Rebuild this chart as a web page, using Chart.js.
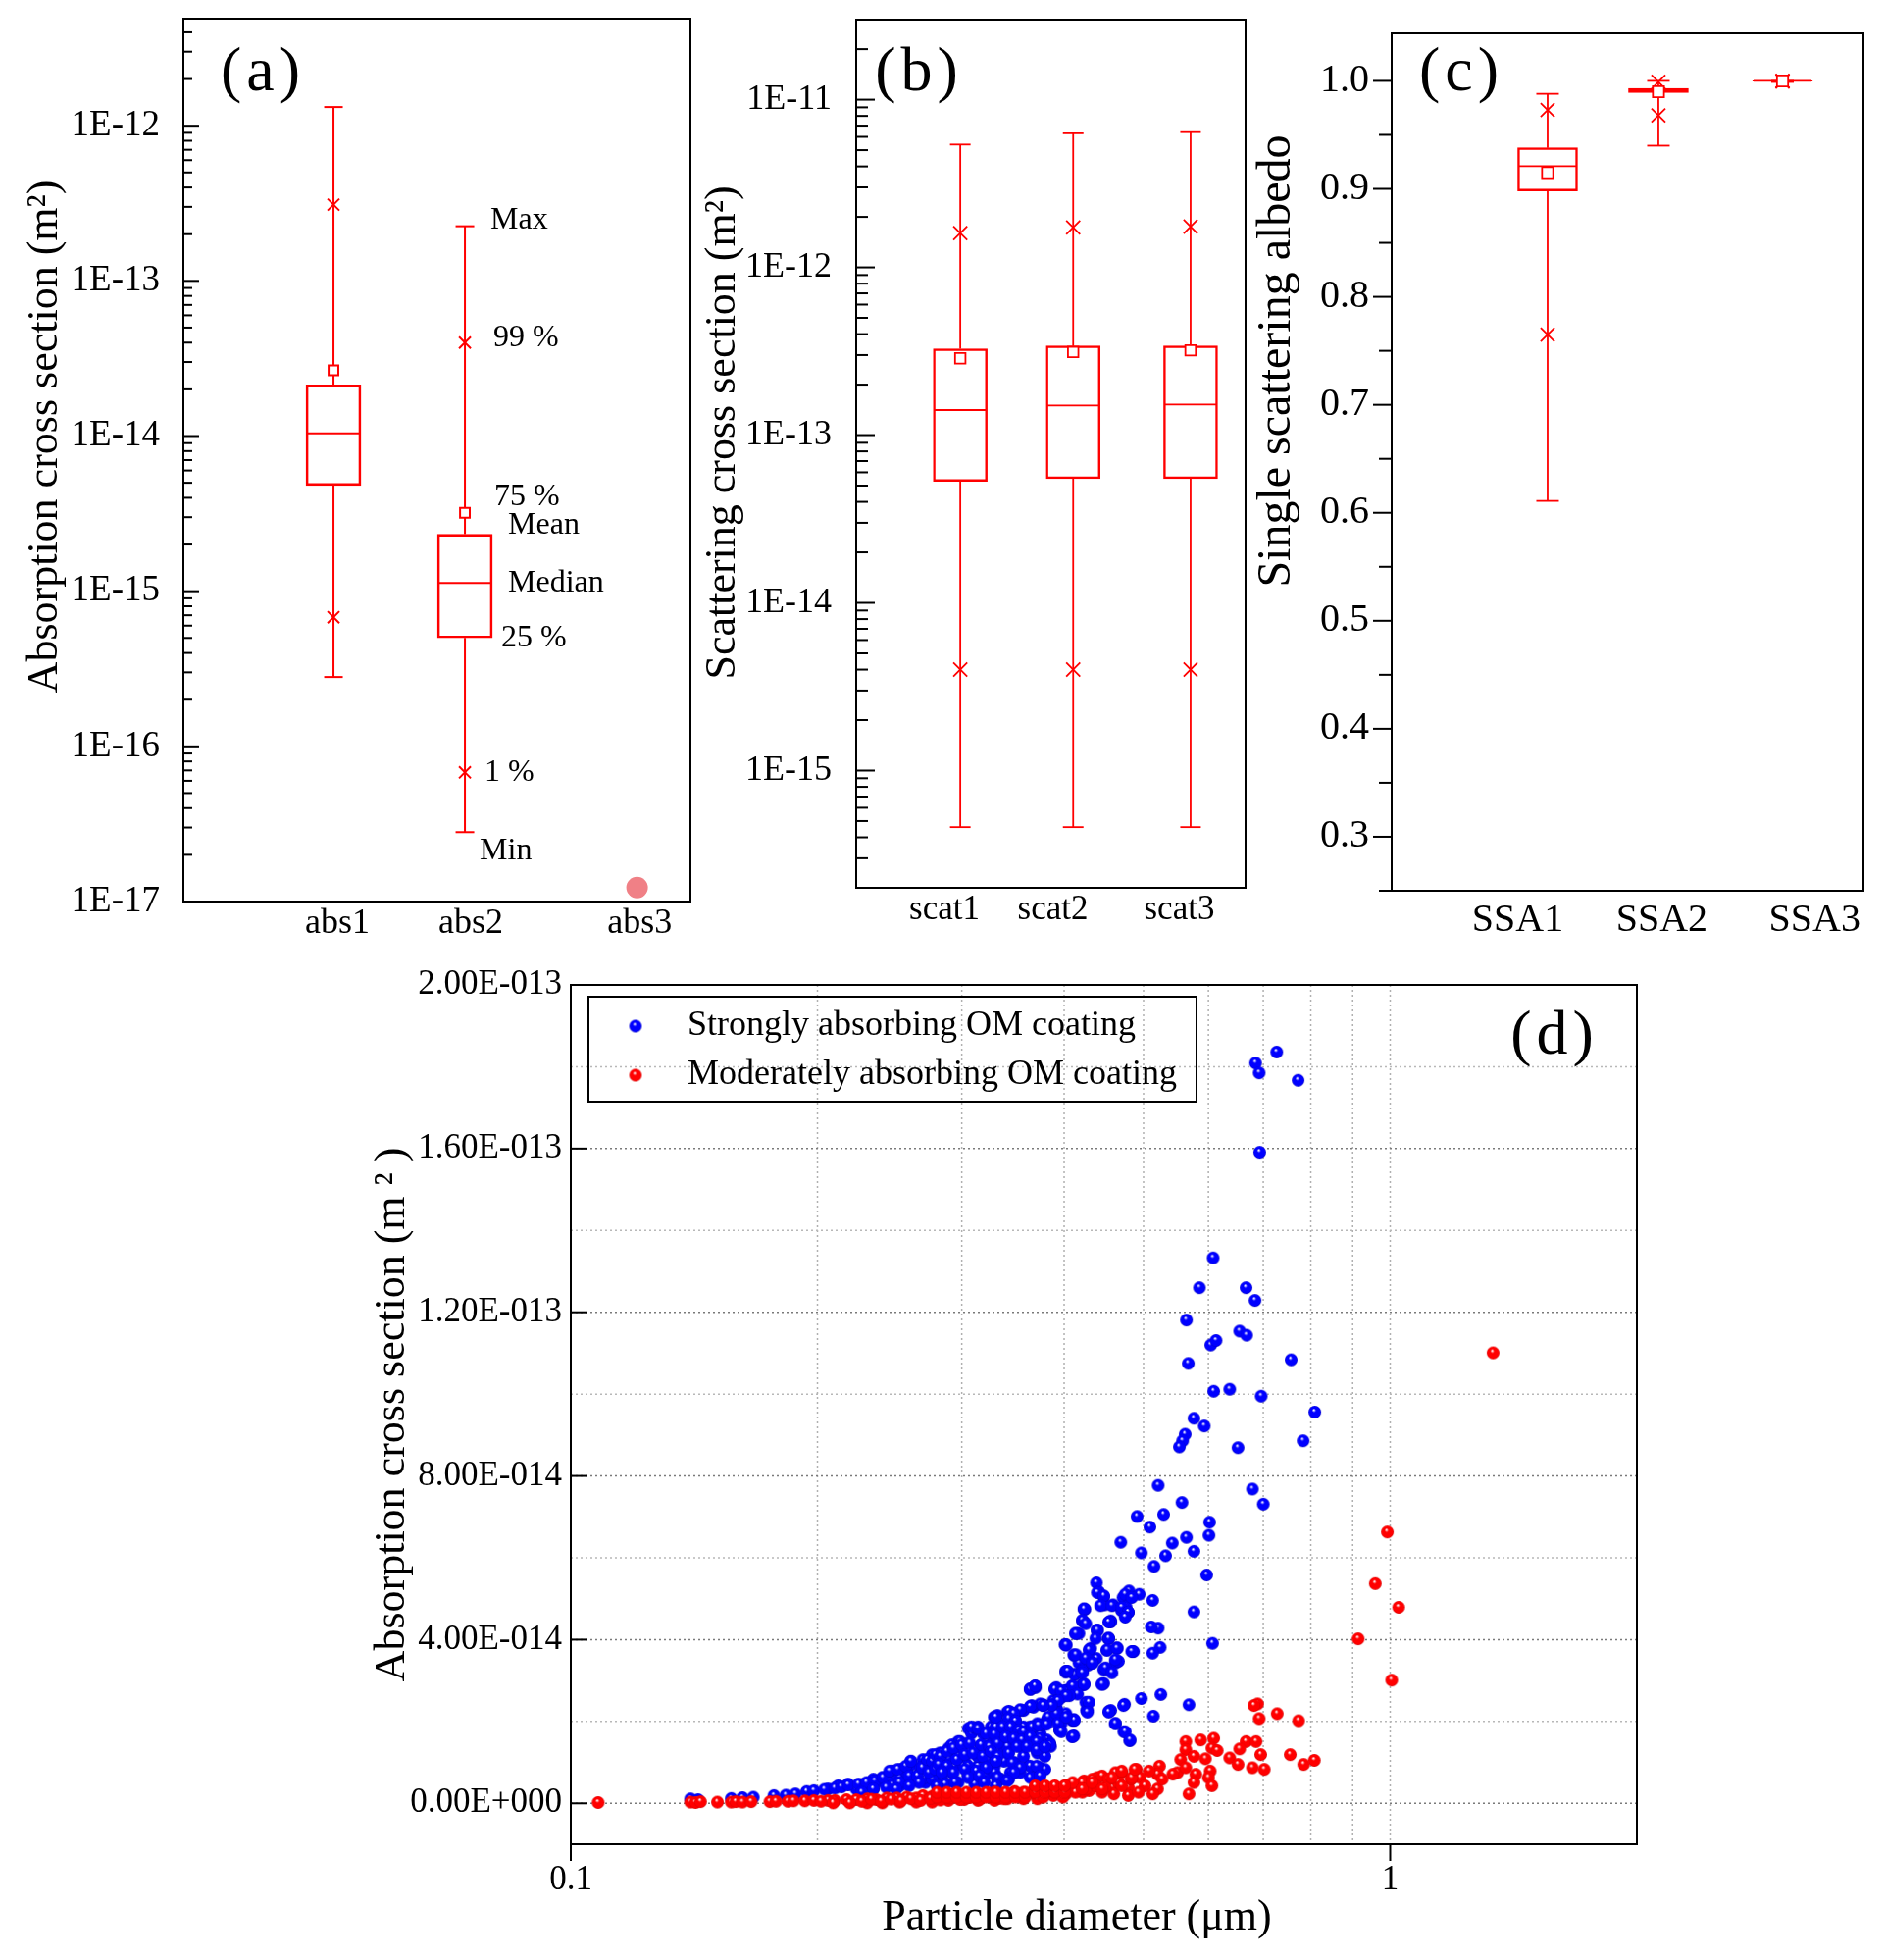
<!DOCTYPE html>
<html>
<head>
<meta charset="utf-8">
<script src="https://cdn.jsdelivr.net/npm/chart.js@4.4.1/dist/chart.umd.min.js"></script>
<style>
  html, body { margin: 0; padding: 0; background: #fff; width: 1922px; height: 1998px; overflow: hidden; }
  body { position: relative; }
  canvas { position: absolute; }
</style>
</head>
<body>
<canvas id="pa" width="720" height="980" style="left:0;top:0"></canvas>
<canvas id="pb" width="580" height="980" style="left:700px;top:0"></canvas>
<canvas id="pc" width="662" height="980" style="left:1260px;top:0"></canvas>
<canvas id="pd" width="1400" height="1018" style="left:300px;top:980px"></canvas>
<script>
// ---- panel (a): absorption cross section box plots (m^2)
const absCats = ['abs1', 'abs2', 'abs3'];
const absX = [1, 2, 3.31];
const absTickX = [1.03, 2.045, 3.33];
const absMin = [2.8e-16, 2.8e-17, null];
const absP1 = [6.8e-16, 6.8e-17, null];
const absQ1 = [4.8e-15, 5.0e-16, null];
const absMedian = [1.04e-14, 1.13e-15, null];
const absQ3 = [2.14e-14, 2.33e-15, null];
const absP99 = [3.1e-13, 4.0e-14, null];
const absMax = [1.32e-12, 2.25e-13, null];
const absMean = [2.65e-14, 3.2e-15, null];
const abs3Value = [1.23e-17];

// ---- panel (b): scattering cross section box plots (m^2)
const scatCats = ['scat1', 'scat2', 'scat3'];
const scatX = [1, 2, 3.04];
const scatTickX = [0.86, 1.82, 2.94];
const scatMin = [4.6e-16, 4.6e-16, 4.6e-16];
const scatP1 = [4.0e-15, 4.0e-15, 4.0e-15];
const scatQ1 = [5.3e-14, 5.5e-14, 5.5e-14];
const scatMedian = [1.41e-13, 1.50e-13, 1.52e-13];
const scatQ3 = [3.27e-13, 3.40e-13, 3.40e-13];
const scatP99 = [1.60e-12, 1.73e-12, 1.75e-12];
const scatMax = [5.4e-12, 6.3e-12, 6.4e-12];
const scatMean = [2.87e-13, 3.13e-13, 3.20e-13];

// ---- panel (c): single scattering albedo box plots
const ssaCats = ['SSA1', 'SSA2', 'SSA3'];
const ssaX = [1, 2, 3.12];
const ssaTickX = [0.73, 2.03, 3.41];
const ssaMin = [0.611, 0.940, 0.999];
const ssaP1 = [0.765, 0.968, 0.9995];
const ssaQ1 = [0.898, 0.989, 0.9998];
const ssaMedian = [0.921, 0.991, 1.0];
const ssaQ3 = [0.938, 0.993, 1.0];
const ssaP99 = [0.973, 0.999, 1.0];
const ssaMax = [0.988, 1.0, 1.0];
const ssaMean = [0.915, 0.990, 0.9999];

// ---- panel (d): [particle diameter (um), absorption cross section (1E-14 m^2)]
const strongPoints = [
  [0.727,18.36],[0.685,18.09],[0.692,17.85],[0.772,17.67],[0.693,15.91],[0.608,13.33],[0.585,12.60],
  [0.667,12.60],[0.684,12.29],[0.564,11.81],[0.655,11.54],[0.668,11.44],[0.604,11.20],[0.613,11.31],
  [0.757,10.84],[0.567,10.75],[0.609,10.07],[0.637,10.12],[0.696,9.95],[0.809,9.56],[0.576,9.41],
  [0.593,9.22],[0.562,9.02],[0.558,8.86],[0.553,8.71],[0.652,8.69],[0.783,8.86],[0.521,7.77],
  [0.679,7.68],[0.557,7.35],[0.700,7.31],[0.491,7.01],[0.529,7.06],[0.602,6.87],[0.509,6.75],
  [0.564,6.50],[0.601,6.55],[0.469,6.38],[0.542,6.36],[0.576,6.16],[0.497,6.12],[0.532,6.05],
  [0.515,5.79],[0.597,5.58],[0.438,5.39],[0.441,5.17],[0.447,5.05],[0.480,5.19],[0.494,5.11],
  [0.472,5.03],[0.513,4.96],[0.459,4.85],[0.476,4.80],[0.448,4.85],[0.424,4.74],[0.423,4.43],
  [0.576,4.68],[0.417,4.15],[0.439,4.23],[0.456,4.46],[0.453,4.03],[0.401,3.88],[0.521,4.28],
  [0.511,4.31],[0.607,3.91],[0.524,3.81],[0.485,3.71],[0.430,3.75],[0.451,3.74],[0.464,3.80],
  [0.412,3.61],[0.438,3.54],[0.417,3.43],[0.428,3.38],[0.462,3.43],[0.449,3.29],[0.402,3.20],
  [0.421,3.26],[0.447,2.93],[0.422,2.90],[0.391,2.81],[0.368,2.84],[0.402,2.76],[0.525,2.66],
  [0.497,2.56],[0.474,2.42],[0.568,2.41],[0.396,2.67],[0.377,2.41],[0.392,2.30],[0.454,2.25],
  [0.426,2.27],[0.514,2.13],[0.411,2.05],[0.462,1.95],[0.473,1.75],[0.481,1.53],[0.411,1.65],
  [0.206,0.35],[0.212,0.43],[0.218,0.47],[0.228,0.47],[0.234,0.59],[0.240,0.63],[0.247,0.79],
  [0.253,0.83],[0.260,1.03],[0.259,0.91],[0.269,1.07],[0.276,1.19],[0.282,1.23],[0.289,1.31],
  [0.297,1.51],[0.305,1.47],[0.308,1.83],[0.314,1.87],[0.320,1.71],[0.329,2.11],[0.332,1.87],
  [0.341,2.23],[0.348,2.19],[0.357,2.27],[0.367,2.35],[0.374,2.43],[0.388,2.51],[0.395,2.67],
  [0.402,2.75],[0.409,2.87],[0.421,2.91],[0.364,2.79],[0.369,2.83],[0.390,2.79],[0.252,0.43],
  [0.259,0.51],[0.266,0.71],[0.274,0.83],[0.281,0.75],[0.289,0.91],[0.294,1.11],[0.297,0.51],
  [0.305,0.83],[0.314,0.91],[0.323,1.23],[0.329,1.47],[0.338,1.63],[0.344,1.79],[0.354,1.71],
  [0.364,1.87],[0.371,1.95],[0.381,2.03],[0.392,2.11],[0.402,2.19],[0.409,2.03],[0.395,1.79],
  [0.409,1.63],[0.385,1.39],[0.371,1.23],[0.357,0.99],[0.348,0.75],[0.335,0.59],[0.323,0.75],
  [0.314,0.59],[0.305,1.23],[0.317,1.39],[0.284,0.59],[0.271,0.51],[0.245,0.51],[0.234,0.35],
  [0.223,0.35],[0.335,1.07],[0.354,1.39],[0.360,1.63],[0.374,0.83],[0.367,0.67],[0.341,1.23],
  [0.374,1.71],[0.381,1.55],[0.348,0.99],[0.329,0.91],[0.314,1.15],[0.303,0.99],[0.294,0.91],
  [0.281,0.99],[0.276,0.91],[0.423,4.75],[0.421,4.47],[0.413,4.15],[0.402,3.87],[0.411,3.63],
  [0.402,3.23],[0.413,3.15],[0.421,3.23],[0.411,2.03],[0.395,1.95],[0.470,4.71],[0.479,4.67],
  [0.456,4.43],[0.439,4.23],[0.453,4.03],[0.486,3.71],[0.464,3.79],[0.431,3.79],[0.433,3.43],
  [0.447,3.27],[0.466,3.47],[0.423,2.91],[0.445,2.91],[0.456,2.27],[0.425,2.47],[0.427,2.27],
  [0.513,3.67],[0.140,0.11],[0.143,0.09],[0.157,0.12],[0.162,0.14],[0.167,0.15],[0.177,0.19],
  [0.183,0.20],[0.188,0.23],[0.194,0.29],[0.198,0.31],[0.204,0.34],[0.210,0.37],[0.214,0.40],
  [0.218,0.45],[0.228,0.42],[0.230,0.49],[0.237,0.53],[0.244,0.56],[0.252,0.63],[0.247,0.45],
  [0.257,0.76],[0.259,0.53],[0.267,0.88],[0.270,0.63],[0.278,0.99],[0.281,0.76],[0.289,1.10],
  [0.2244,0.47],[0.2296,0.51],[0.2350,0.55],[0.2404,0.63],[0.2449,0.79],[0.2506,0.83],[0.2564,0.91],
  [0.2600,1.03],[0.2518,0.51],[0.2588,0.67],[0.2649,0.67],[0.2685,0.87],[0.2723,1.07],[0.2761,1.03],
  [0.2786,1.19],[0.2838,1.23],[0.2891,1.35],[0.2917,1.43],[0.2985,1.51],[0.3013,0.91],[0.3055,1.83],
  [0.3083,1.71],[0.3126,1.83],[0.3184,1.71],[0.3258,1.87],[0.3289,2.11],[0.3319,1.71],[0.3170,1.43],
  [0.3243,1.43],[0.3319,1.39],[0.3069,1.27],[0.3141,1.15],[0.3228,1.07],[0.3304,1.15],[0.2838,0.91],
  [0.2917,0.75],[0.2761,0.59],[0.2851,0.47],[0.2944,0.51],[0.3055,0.67],[0.3141,0.71],[0.3199,0.67],
  [0.3289,0.75],[0.2661,0.51],[0.2495,0.35],[0.2427,0.39],[0.2339,0.35],[0.2265,0.27],[0.3319,0.59],
  [0.3112,0.47],[0.3055,0.91],[0.2735,0.75],[0.2588,0.43],[0.2972,1.15],[0.2786,0.83],
  [0.4391,5.15],[0.4472,5.07],[0.4749,5.11],[0.4837,5.03],[0.4431,4.83],[0.4575,4.83],[0.4703,4.79],
  [0.4791,4.67],[0.4749,4.55],[0.4231,4.75],[0.4211,4.47],[0.4250,4.39],[0.4534,4.43],[0.4391,4.23],
  [0.4135,4.15],[0.4371,4.03],[0.4534,4.03],[0.4514,3.75],[0.4640,3.79],[0.4837,3.71],[0.4022,3.87],
  [0.4135,3.63],[0.4290,3.75],[0.4250,3.55],[0.4330,3.43],[0.4619,3.51],[0.4493,3.31],[0.4575,3.19],
  [0.4022,3.23],[0.4116,3.15],[0.4211,3.19],[0.4452,2.91],[0.3913,2.83],[0.4022,2.75],[0.4098,2.87],
  [0.4231,2.91],[0.4290,2.47],[0.4154,2.67],[0.4060,2.63],[0.3967,2.59],[0.3636,2.79],[0.3687,2.87],
  [0.4270,2.23],[0.4534,2.23],[0.4726,2.39],[0.4619,1.95],[0.4749,1.75],[0.4814,1.55],[0.4116,2.03],
  [0.4098,1.63],[0.3967,1.95],[0.3878,2.43],[0.3772,2.39],[0.3652,2.39],[0.3536,2.27],[0.3440,2.23],
  [0.3316,2.15],[0.3301,1.87],[0.3393,1.95],[0.3488,2.03],[0.3569,1.87],[0.3670,1.87],[0.3755,1.91],
  [0.3825,2.11],[0.3913,2.19],[0.3952,1.79],[0.3843,1.47],[0.3738,1.59],[0.3636,1.63],[0.3553,1.71],
  [0.3472,1.71],[0.3378,1.59],[0.3286,1.55],[0.3316,1.31],[0.3409,1.39],[0.3504,1.47],[0.3603,1.43],
  [0.3704,1.31],[0.3790,1.15],[0.3738,0.87],[0.3670,0.63],[0.3790,0.83],[0.3569,1.15],[0.3472,0.99],
  [0.3378,1.03],[0.3301,1.15],[0.3316,0.63],[0.3440,0.75],[0.3536,0.75],[0.3636,0.91],
  [0.3636,2.79],[0.3687,2.87],[0.3896,2.79],[0.3968,2.75],[0.4022,2.63],[0.4041,3.23],[0.3932,2.51],
  [0.3860,2.39],[0.3772,2.39],[0.3636,2.37],[0.3536,2.29],[0.3424,2.25],[0.3472,2.19],[0.3302,2.11],
  [0.3424,2.07],[0.3488,2.01],[0.3083,1.87],[0.3140,1.83],[0.3213,1.71],[0.3288,1.69],[0.3364,1.87],
  [0.3442,1.87],[0.3522,1.79],[0.3571,1.75],[0.3654,1.87],[0.3722,1.91],[0.3808,1.93],[0.3932,1.95],
  [0.3968,1.75],[0.4022,2.11],[0.2824,1.15],[0.2876,1.27],[0.2930,1.35],[0.2998,1.43],[0.3068,1.47],
  [0.3168,1.43],[0.3242,1.39],[0.3317,1.47],[0.3394,1.63],[0.3472,1.59],[0.3553,1.55],[0.3636,1.63],
  [0.3704,1.51],[0.3843,1.43],[0.2811,0.95],[0.2876,0.91],[0.2957,1.07],[0.3026,1.19],[0.3097,1.23],
  [0.3183,1.15],[0.3257,1.27],[0.3317,1.15],[0.3424,1.23],[0.3504,1.39],[0.3603,1.39],[0.3704,1.31],
  [0.3790,1.39],[0.2837,0.75],[0.2930,0.75],[0.3026,0.83],[0.3125,0.79],[0.3213,0.87],[0.3302,1.03],
  [0.3457,0.99],[0.3536,0.87],[0.3704,0.91],[0.2863,0.47],[0.2944,0.51],[0.3054,0.63],[0.3154,0.67],
  [0.3317,0.63],[0.3424,0.59],[0.3472,0.75],[0.3636,0.63],[0.3739,0.67],[0.2798,0.43],[0.3197,0.51],
  [0.3302,0.43],[0.3408,0.55]
];
const moderatePoints = [
  [1.335,11.01],[0.992,6.63],[0.959,5.37],[1.024,4.79],[0.914,4.02],[1.004,3.01],
  [0.689,2.43],[0.692,2.07],[0.682,2.39],[0.728,2.19],[0.773,2.02],[0.563,1.51],[0.587,1.55],
  [0.609,1.59],[0.563,1.31],[0.606,1.35],[0.615,1.29],[0.667,1.51],[0.686,1.51],[0.655,1.33],
  [0.637,1.11],[0.695,1.19],[0.652,0.95],[0.679,0.87],[0.702,0.83],[0.755,1.19],[0.784,0.95],
  [0.808,1.05],[0.555,1.07],[0.576,1.15],[0.595,1.09],[0.550,0.75],[0.563,0.87],[0.603,0.79],
  [0.600,0.63],[0.579,0.71],[0.576,0.51],[0.606,0.43],[0.568,0.23],[0.543,0.71],[0.523,0.91],
  [0.520,0.71],[0.508,0.79],[0.490,0.83],[0.495,0.63],[0.470,0.75],[0.456,0.59],[0.439,0.63],
  [0.423,0.55],[0.437,0.43],[0.458,0.39],[0.479,0.39],[0.502,0.43],[0.520,0.35],[0.513,0.23],
  [0.479,0.19],[0.460,0.23],[0.445,0.27],[0.429,0.31],[0.421,0.27],[0.527,0.59],[0.493,0.27],
  [0.466,0.51],[0.483,0.59],
  [0.206,0.07],[0.210,0.07],[0.217,0.09],[0.223,0.09],[0.230,0.11],[0.236,0.09],[0.243,0.13],
  [0.250,0.13],[0.257,0.15],[0.264,0.13],[0.269,0.19],[0.276,0.17],[0.284,0.19],[0.292,0.21],
  [0.300,0.19],[0.305,0.23],[0.314,0.21],[0.323,0.25],[0.329,0.27],[0.338,0.25],[0.348,0.29],
  [0.357,0.27],[0.367,0.31],[0.374,0.19],[0.381,0.33],[0.392,0.37],[0.402,0.43],[0.409,0.47],
  [0.421,0.51],[0.433,0.59],[0.445,0.67],[0.453,0.59],[0.462,0.75],[0.437,0.43],[0.449,0.39],
  [0.425,0.35],[0.413,0.27],[0.402,0.23],[0.388,0.19],[0.371,0.11],[0.354,0.15],[0.341,0.11],
  [0.329,0.07],[0.314,0.07],[0.302,0.09],[0.289,0.07],[0.276,0.03],[0.264,0.03],[0.252,0.03],
  [0.240,0.01],[0.230,0.01],[0.219,0.01],[0.209,0.01],
  [0.108,0.02],[0.140,0.03],[0.142,0.02],[0.144,0.04],[0.151,0.03],[0.157,0.03],[0.159,0.04],
  [0.162,0.03],[0.166,0.04],[0.175,0.04],[0.178,0.05],[0.184,0.05],[0.187,0.06],[0.193,0.06],
  [0.198,0.07],[0.202,0.05],
  [0.2265,0.05],[0.2328,0.10],[0.2393,0.05],[0.2460,0.10],[0.2529,0.06],[0.2600,0.11],[0.2673,0.07],
  [0.2748,0.12],[0.2825,0.08],[0.2904,0.13],[0.2985,0.09],[0.3069,0.14],[0.3155,0.10],[0.3243,0.16],
  [0.3334,0.12],[0.3286,0.23],[0.3378,0.11],[0.3472,0.23],[0.3569,0.11],[0.3670,0.25],[0.3772,0.15],
  [0.3878,0.31],[0.3986,0.15],[0.4098,0.51],[0.4211,0.35],[0.4330,0.51],[0.4452,0.35],[0.4575,0.63],
  [0.4703,0.43],[0.4837,0.63],[0.4703,0.79],[0.4880,0.83],
  [0.2798,0.15],[0.2798,0.27],[0.2876,0.15],[0.2876,0.27],[0.2957,0.15],[0.2957,0.27],[0.3040,0.15],
  [0.3040,0.27],[0.3125,0.15],[0.3125,0.27],[0.3213,0.15],[0.3213,0.27],[0.3302,0.15],[0.3302,0.27],
  [0.3394,0.15],[0.3394,0.27],[0.3488,0.15],[0.3488,0.27],[0.3586,0.15],[0.3586,0.27],[0.3687,0.27],
  [0.3687,0.43],[0.3790,0.27],[0.3790,0.43],[0.3896,0.27],[0.3896,0.43],[0.4004,0.27],[0.4004,0.43]
];
const diamTicks = [0.1, 0.2, 0.3, 0.4, 0.5, 0.6, 0.7, 0.8, 0.9, 1, 2];
const diamTickLabels = ['0.1', '', '', '', '', '', '', '', '', '1', ''];
const absTicksD = [0, 2e-14, 4e-14, 6e-14, 8e-14, 1e-13, 1.2e-13, 1.4e-13, 1.6e-13, 1.8e-13, 2e-13];

Chart.defaults.font.family = '"Liberation Serif", "Times New Roman", serif';
Chart.defaults.color = '#000';
Chart.defaults.animation = false;
Chart.defaults.events = [];
Chart.defaults.plugins.legend.display = false;
Chart.defaults.plugins.tooltip.enabled = false;

const RED = '#ff0000';
const SERIF = '"Liberation Serif", serif';

// frame, hand-drawn tick marks, grid, titles and notes
const decor = {
  id: 'decor',
  beforeDatasetsDraw(chart, args, o) {
    if (!o.grid) return;
    const { ctx, chartArea: a, scales: { x, y } } = chart;
    ctx.save();
    ctx.lineWidth = 1.5;
    ctx.setLineDash([2, 3]);
    x.ticks.forEach(t => {
      const p = x.getPixelForValue(t.value);
      if (p < a.left + 2 || p > a.right - 2) return;
      ctx.strokeStyle = '#b0b0b0';
      ctx.beginPath(); ctx.moveTo(p, a.top); ctx.lineTo(p, a.bottom); ctx.stroke();
    });
    y.ticks.forEach(t => {
      const p = y.getPixelForValue(t.value);
      if (p < a.top + 2 || p > a.bottom - 2) return;
      ctx.strokeStyle = t.label ? '#7a7a7a' : '#b8b8b8';
      ctx.beginPath(); ctx.moveTo(a.left, p); ctx.lineTo(a.right, p); ctx.stroke();
    });
    ctx.restore();
  },
  afterDraw(chart, args, o) {
    const { ctx, chartArea: a, scales } = chart;
    ctx.save();
    ctx.strokeStyle = '#000';
    ctx.lineWidth = 2;
    ctx.strokeRect(a.left, a.top, a.right - a.left, a.bottom - a.top);

    const tk = o.ticks || {};
    ['x', 'y'].forEach(id => {
      const spec = tk[id];
      if (!spec) return;
      const s = scales[id];
      ctx.lineWidth = 2;
      s.ticks.forEach(t => {
        const len = t.label ? spec.major : spec.minor;
        if (!len) return;
        const p = s.getPixelForValue(t.value);
        ctx.beginPath();
        if (id === 'y') { ctx.moveTo(a.left, p); ctx.lineTo(a.left + spec.dir * len, p); }
        else { ctx.moveTo(p, a.bottom); ctx.lineTo(p, a.bottom - spec.dir * len); }
        ctx.stroke();
      });
    });

    ctx.fillStyle = '#000';
    (o.texts || []).forEach(t => {
      ctx.save();
      ctx.font = t.font;
      ctx.textAlign = t.align || 'center';
      ctx.textBaseline = 'middle';
      if (t.spacing) ctx.letterSpacing = t.spacing;
      ctx.translate(t.x, t.y);
      if (t.rotate) ctx.rotate(t.rotate);
      ctx.fillText(t.text, 0, 0);
      ctx.restore();
    });

    if (o.notes) {
      const n = o.notes;
      const px = scales.x.getPixelForValue(n.x);
      ctx.font = n.font;
      ctx.textAlign = 'left';
      ctx.textBaseline = 'middle';
      n.items.forEach(it => {
        const py = scales.y.getPixelForValue(it.value);
        ctx.fillText(it.text, px + it.dx, py + it.dy);
      });
    }

    if (o.legend) {
      const l = o.legend;
      ctx.lineWidth = 2;
      ctx.strokeRect(l.x, l.y, l.w, l.h);
      ctx.font = l.font;
      ctx.textAlign = 'left';
      ctx.textBaseline = 'middle';
      l.rows.forEach(r => {
        const ds = chart.data.datasets[r.ds];
        const img = ds.pointStyle;
        ctx.drawImage(img, l.x + l.marker - img.width / 2, l.y + r.dy - img.height / 2);
        ctx.fillText(ds.label, l.x + l.text, l.y + r.dy);
      });
    }
    ctx.restore();
  }
};
Chart.register(decor);

function logTicks(min, max) {
  const out = [];
  for (let e = Math.floor(Math.log10(min)); e <= Math.ceil(Math.log10(max)); e++) {
    for (let m = 1; m <= 9; m++) {
      const v = Number(m + 'e' + e);
      if (v >= min * 0.999 && v <= max * 1.001) out.push(v);
    }
  }
  return out;
}
function logLabel(v) {
  const e = Math.log10(v);
  return Math.abs(e - Math.round(e)) < 1e-6 ? '1E' + Math.round(e) : '';
}
function sci(v) {
  if (Math.abs(v) < 1e-20) return '0.00E+000';
  const parts = v.toExponential(2).split('e');
  const n = parseInt(parts[1], 10);
  return parts[0] + 'E' + (n < 0 ? '-' : '+') + String(Math.abs(n)).padStart(3, '0');
}

function boxDatasets(xs, st, look) {
  const idx = xs.map((_, i) => i).filter(i => st.q1[i] !== null);
  const pts = key => idx.map(i => ({ x: xs[i], y: st[key][i] }));
  const whisker = [];
  idx.forEach(i => {
    whisker.push({ x: xs[i], y: st.min[i] }, { x: xs[i], y: st.q1[i] }, { x: xs[i], y: null },
                 { x: xs[i], y: st.q3[i] }, { x: xs[i], y: st.max[i] }, { x: xs[i], y: null });
  });
  const mark = (data, style, r, fill, order) => ({
    type: 'scatter', data, order,
    pointStyle: style, pointRadius: r,
    pointBorderColor: RED, pointBorderWidth: look.lw,
    pointBackgroundColor: fill || RED
  });
  return [
    { type: 'line', data: whisker, borderColor: RED, borderWidth: look.lw, pointRadius: 0, spanGaps: false, order: 9 },
    { type: 'bar', data: idx.map(i => ({ x: xs[i], y: [st.q1[i], st.q3[i]] })),
      backgroundColor: 'rgba(0,0,0,0)', borderColor: RED, borderWidth: look.lw,
      borderSkipped: false, barThickness: look.box, grouped: false, order: 8 },
    mark(pts('median'), 'line', look.box / 2 - 1, null, 7),
    mark(pts('min').concat(pts('max')), 'line', look.cap, null, 6),
    mark(pts('p1').concat(pts('p99')), 'crossRot', look.cross, null, 5),
    mark(pts('mean'), 'rect', look.mean, '#fff', 4)
  ];
}

function boxChart(id, p) {
  return new Chart(document.getElementById(id), {
    type: 'bar',
    data: { datasets: boxDatasets(p.xs, p.st, p.look).concat(p.extra || []) },
    options: {
      responsive: false,
      // no auto padding: the wide median markers would otherwise shrink the frame
      layout: { autoPadding: false, padding: { left: 0, top: p.top, right: p.right, bottom: 0 } },
      scales: {
        x: {
          type: 'linear', min: p.xMin, max: p.xMax, offset: false,
          grid: { display: false, drawTicks: false }, border: { display: false },
          afterBuildTicks: s => { s.ticks = p.tickX.map(v => ({ value: v })); },
          afterFit: s => { s.height = p.xH; },
          ticks: { callback: (v, i) => p.cats[i], font: { size: p.xFont }, padding: p.xPad, maxRotation: 0, autoSkip: false }
        },
        y: {
          type: p.yType, min: p.yMin, max: p.yMax,
          // the tick length only spaces the labels off the frame; marks are drawn by decor
          grid: { display: false, drawTicks: true, tickLength: p.yGap }, border: { display: false },
          afterBuildTicks: s => { s.ticks = p.yTicks.map(v => ({ value: v })); },
          afterFit: s => { s.width = p.yW; },
          ticks: { callback: p.yLabel, font: { size: p.yFont, lineHeight: 1 }, padding: 0, autoSkip: false }
        }
      },
      plugins: { decor: p.decor }
    }
  });
}

// (a)
boxChart('pa', {
  xs: absX, cats: absCats, tickX: absTickX, xMin: -0.142, xMax: 3.716,
  st: { min: absMin, p1: absP1, q1: absQ1, median: absMedian, q3: absQ3, p99: absP99, max: absMax, mean: absMean },
  look: { lw: 2, box: 56, cap: 9.5, cross: 8.5, mean: 7 },
  extra: [{ type: 'scatter', data: abs3Value.map(v => ({ x: absX[2], y: v })), pointRadius: 11,
            pointBackgroundColor: '#f08086', pointBorderWidth: 0, order: 3 }],
  yType: 'logarithmic', yMin: 1e-17, yMax: 4.9e-12,
  yTicks: logTicks(1e-17, 4.9e-12), yLabel: v => logLabel(v),
  top: 19, right: 16, xH: 61, yW: 187, xFont: 36, yFont: 37, xPad: 1, yGap: 24,
  decor: {
    ticks: { y: { major: 16, minor: 9, dir: 1 } },
    texts: [
      { text: 'Absorption cross section (m²)', x: 46, y: 445, font: '44px ' + SERIF, rotate: -Math.PI / 2 },
      { text: '(a)', x: 268, y: 75, font: '64px ' + SERIF, spacing: '5px' }
    ],
    notes: {
      x: absX[1], font: '32px ' + SERIF,
      items: [
        { text: 'Max', value: absMax[1], dx: 26, dy: -6 },
        { text: '99 %', value: absP99[1], dx: 29, dy: -5 },
        { text: '75 %', value: absQ3[1], dx: 30, dy: -38 },
        { text: 'Mean', value: absMean[1], dx: 44, dy: 13 },
        { text: 'Median', value: absMedian[1], dx: 44, dy: 0 },
        { text: '25 %', value: absQ1[1], dx: 37, dy: 0 },
        { text: '1 %', value: absP1[1], dx: 20, dy: 0 },
        { text: 'Min', value: absMin[1], dx: 15, dy: 19 }
      ]
    }
  }
});

// (b)
boxChart('pb', {
  xs: scatX, cats: scatCats, tickX: scatTickX, xMin: 0.078, xMax: 3.527,
  st: { min: scatMin, p1: scatP1, q1: scatQ1, median: scatMedian, q3: scatQ3, p99: scatP99, max: scatMax, mean: scatMean },
  look: { lw: 1.8, box: 55, cap: 10.5, cross: 10, mean: 7.5 },
  yType: 'logarithmic', yMin: 2e-16, yMax: 3e-11,
  yTicks: logTicks(2e-16, 3e-11), yLabel: v => logLabel(v),
  top: 20, right: 10, xH: 75, yW: 173, xFont: 35, yFont: 36, xPad: 2, yGap: 25,
  decor: {
    ticks: { y: { major: 19, minor: 12, dir: 1 } },
    texts: [
      { text: 'Scattering cross section (m²)', x: 37, y: 441, font: '44px ' + SERIF, rotate: -Math.PI / 2 },
      { text: '(b)', x: 237, y: 75, font: '64px ' + SERIF, spacing: '5px' }
    ]
  }
});

// (c)
const ssaTicks = [];
for (let k = 5; k <= 20; k++) ssaTicks.push(k / 20);
boxChart('pc', {
  xs: ssaX, cats: ssaCats, tickX: ssaTickX, xMin: -0.407, xMax: 3.85,
  st: { min: ssaMin, p1: ssaP1, q1: ssaQ1, median: ssaMedian, q3: ssaQ3, p99: ssaP99, max: ssaMax, mean: ssaMean },
  look: { lw: 1.8, box: 61, cap: 11.5, cross: 10, mean: 8 },
  yType: 'linear', yMin: 0.25, yMax: 1.044,
  yTicks: ssaTicks, yLabel: v => (Math.round(v * 20) % 2 === 0 ? v.toFixed(1) : ''),
  top: 34, right: 22, xH: 72, yW: 159, xFont: 40, yFont: 40, xPad: 6, yGap: 23,
  decor: {
    ticks: { y: { major: 19, minor: 13, dir: -1 } },
    texts: [
      { text: 'Single scattering albedo', x: 42, y: 368, font: '48px ' + SERIF, rotate: -Math.PI / 2 },
      { text: '(c)', x: 230, y: 75, font: '64px ' + SERIF, spacing: '5px' }
    ]
  }
});

// (d) shaded ball markers
function ball(col, dark, r) {
  const c = document.createElement('canvas');
  const s = Math.ceil(r * 2 + 2);
  c.width = c.height = s;
  const g = c.getContext('2d');
  const m = s / 2;
  const grad = g.createRadialGradient(m - r * 0.15, m - r * 0.35, r * 0.05, m, m, r);
  grad.addColorStop(0, '#ffffff');
  grad.addColorStop(0.28, col);
  grad.addColorStop(0.85, col);
  grad.addColorStop(1, dark);
  g.fillStyle = grad;
  g.beginPath(); g.arc(m, m, r, 0, Math.PI * 2); g.fill();
  return c;
}
const blueBall = ball('#0000ff', '#0000c0', 6.5);
const redBall = ball('#ff0000', '#d00000', 6.5);

new Chart(document.getElementById('pd'), {
  type: 'scatter',
  data: {
    datasets: [
      { label: 'Strongly absorbing OM coating',
        data: strongPoints.map(p => ({ x: p[0], y: p[1] * 1e-14 })),
        pointStyle: blueBall, pointRadius: 6, order: 2 },
      { label: 'Moderately absorbing OM coating',
        data: moderatePoints.map(p => ({ x: p[0], y: p[1] * 1e-14 })),
        pointStyle: redBall, pointRadius: 6, order: 1 }
    ]
  },
  options: {
    responsive: false,
    layout: { autoPadding: false, padding: { left: 0, top: 24, right: 31, bottom: 0 } },
    scales: {
      x: {
        type: 'logarithmic', min: 0.1, max: 2,
        grid: { display: false, drawTicks: false }, border: { display: false },
        afterBuildTicks: s => { s.ticks = diamTicks.map(v => ({ value: v })); },
        afterFit: s => { s.height = 118; },
        ticks: { callback: (v, i) => diamTickLabels[i], font: { size: 35 }, padding: 16, maxRotation: 0, autoSkip: false }
      },
      y: {
        type: 'linear', min: -1e-14, max: 2e-13,
        grid: { display: false, drawTicks: true, tickLength: 9 }, border: { display: false },
        afterBuildTicks: s => { s.ticks = absTicksD.map(v => ({ value: v })); },
        afterFit: s => { s.width = 282; },
        ticks: { callback: (v, i) => (i % 2 === 0 ? sci(v) : ''), font: { size: 35, lineHeight: 1 }, padding: 0, autoSkip: false }
      }
    },
    plugins: {
      decor: {
        grid: true,
        ticks: { y: { major: 17, minor: 0, dir: 1 }, x: { major: 17, minor: 0, dir: -1 } },
        texts: [
          { text: 'Absorption cross section (m ² )', x: 100, y: 462, font: '44px ' + SERIF, rotate: -Math.PI / 2 },
          { text: 'Particle diameter (μm)', x: 798, y: 975, font: '44px ' + SERIF },
          { text: '(d)', x: 1285, y: 77, font: '64px ' + SERIF, spacing: '5px' }
        ],
        legend: { x: 300, y: 36, w: 620, h: 107, marker: 48, text: 101, font: '36px ' + SERIF,
                  rows: [{ ds: 0, dy: 30 }, { ds: 1, dy: 80 }] }
      }
    }
  }
});
</script>
</body>
</html>
